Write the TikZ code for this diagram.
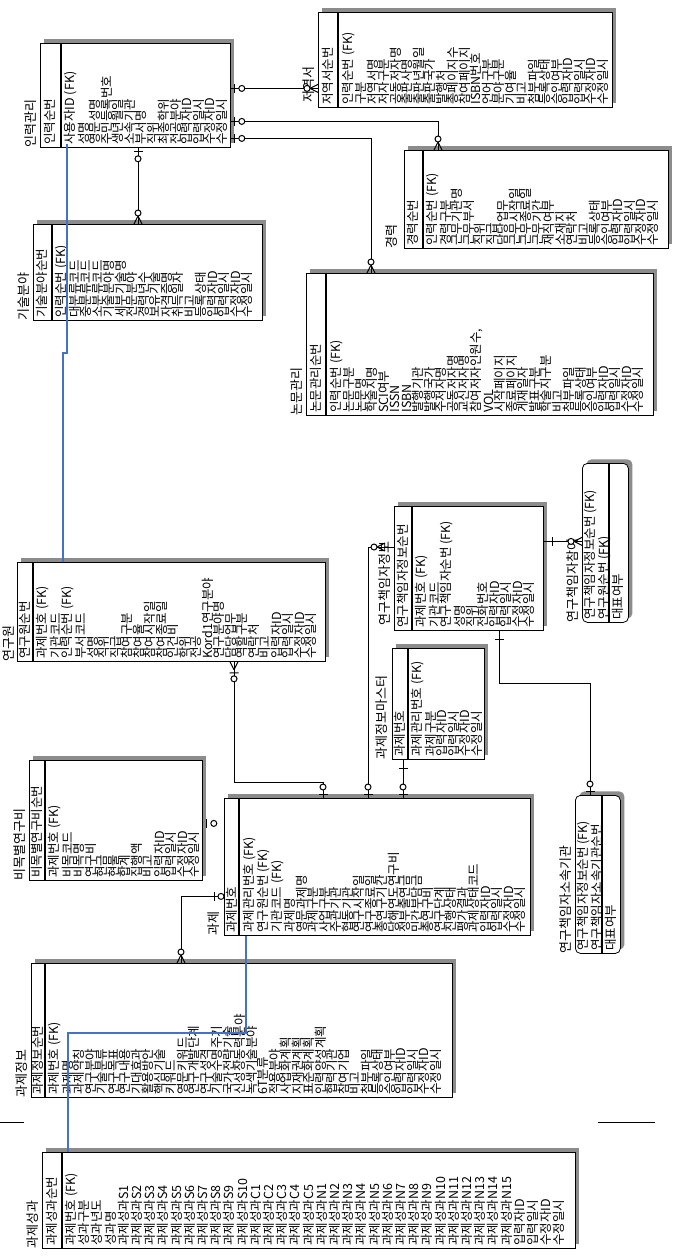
\documentclass[tikz,border=0pt]{standalone}
\usepackage{fontspec}
\newfontfamily\kr{Noto Sans CJK KR}
\usetikzlibrary{shadows}
\definecolor{memoblue}{RGB}{68,114,196}

\begin{document}
\begin{tikzpicture}[x=1pt,y=-1pt,
  entity/.style={draw,line width=0.8pt,fill=white,inner sep=0pt,anchor=north west,
    drop shadow={shadow xshift=4pt,shadow yshift=4pt,opacity=1,fill=black!45}},
  dentity/.style={entity,rounded corners=5pt},
  divline/.style={line width=1.4pt},
  etitle/.style={rotate=90,anchor=south west,inner sep=0pt,font=\kr\fontsize{13}{13}\selectfont},
  attr/.style={rotate=90,anchor=north west,align=left,inner sep=0pt,font=\kr\fontsize{12.5}{11.5}\selectfont},
  rel/.style={line width=1pt},
  memo/.style={line width=1.6pt,draw=memoblue},
  many/.pic={\draw (-8,0) -- (0,4) (-8,0) -- (0,-4); \draw[fill=white] (-11,0) circle (3pt);},
  zeroone/.pic={\draw (-4,-4.5) -- (-4,4.5); \draw[fill=white] (-11,0) circle (3pt);},
  one/.pic={\draw (-9,-4.5) -- (-9,4.5);},
  crowbar/.pic={\draw (-8,0) -- (0,4) (-8,0) -- (0,-4) (-11,-4.5) -- (-11,4.5); \draw[fill=white] (-17,0) circle (3pt);}]

  \useasboundingbox (0,0) rectangle (676,1256);

  \node[entity,minimum width=190,minimum height=104] (inryeok) at (40,43) {};
  \draw[divline] ([xshift=21pt]inryeok.north west) -- ([xshift=21pt]inryeok.south west);
  \node[etitle] (inryeok-t) at ([xshift=-3pt]inryeok.south west) {인력관리};
  \node[attr] (inryeok-k) at ([xshift=4pt,yshift=3pt]inryeok.south west) {인력순번};
  \node[attr] (inryeok-a) at ([xshift=24pt,yshift=3pt]inryeok.south west)
    {사용자ID (FK)\\성명\\영문성명\\주민등록번호\\생년월일\\소속기관\\부서명\\직위\\최종학위\\전공분야\\입력자ID\\입력일시\\수정자ID\\수정일시};

  \node[entity,minimum width=294,minimum height=95] (jeoyeok) at (318,12) {};
  \draw[divline] ([xshift=20pt]jeoyeok.north west) -- ([xshift=20pt]jeoyeok.south west);
  \node[etitle] (jeoyeok-t) at ([xshift=-3pt,yshift=5pt]jeoyeok.south west) {저역서};
  \node[attr] (jeoyeok-k) at ([xshift=4pt,yshift=3pt]jeoyeok.south west) {저역서순번};
  \node[attr] (jeoyeok-a) at ([xshift=24pt,yshift=3pt]jeoyeok.south west)
    {인력순번 (FK)\\구분\\저역서명\\저자구분\\공동저자명\\출판사명\\출판년월일\\출판국가\\발행처\\총페이지수\\참여페이지\\ISBN번호\\언어구분\\분야구분\\기여율\\비고\\첨부파일\\등록상태\\승인여부\\입력자ID\\입력일시\\수정자ID\\수정일시};

  \node[entity,minimum width=264,minimum height=98] (kyeong) at (404,150) {};
  \draw[divline] ([xshift=19pt]kyeong.north west) -- ([xshift=19pt]kyeong.south west);
  \node[etitle] (kyeong-t) at ([xshift=-6pt]kyeong.south west) {경력};
  \node[attr] (kyeong-k) at ([xshift=3pt,yshift=3pt]kyeong.south west) {경력순번};
  \node[attr] (kyeong-a) at ([xshift=22pt,yshift=3pt]kyeong.south west)
    {인력순번 (FK)\\경력구분\\근무기관명\\근무부서\\직위\\직급\\담당업무\\근무시작일\\근무종료일\\근무기간\\재직여부\\소재지\\연락처\\비고\\등록상태\\승인여부\\입력자ID\\입력일시\\수정자ID\\수정일시};

  \node[entity,minimum width=347,minimum height=142] (nonmun) at (306,273) {};
  \draw[divline] ([xshift=20pt]nonmun.north west) -- ([xshift=20pt]nonmun.south west);
  \node[etitle] (nonmun-t) at ([xshift=-3pt]nonmun.south west) {논문관리};
  \node[attr] (nonmun-k) at ([xshift=4pt,yshift=3pt]nonmun.south west) {논문관리순번};
  \node[attr] (nonmun-a) at ([xshift=24pt,yshift=3pt]nonmun.south west)
    {인력순번 (FK)\\논문구분\\논문명\\학술지명\\SCI여부\\ISSN\\ISBN\\발행기관\\발행국가\\주저자명\\공동저자명\\교신저자명\\참여저자인원수,\\VOL\\시작페이지\\종료페이지\\게재일자\\발표구분\\학술지구분\\비고\\첨부파일\\등록상태\\승인여부\\입력자ID\\입력일시\\수정자ID\\수정일시};

  \node[entity,minimum width=229,minimum height=96] (gisul) at (33,224) {};
  \draw[divline] ([xshift=19pt]gisul.north west) -- ([xshift=19pt]gisul.south west);
  \node[etitle] (gisul-t) at ([xshift=-3pt]gisul.south west) {기술분야};
  \node[attr] (gisul-k) at ([xshift=3pt,yshift=3pt]gisul.south west) {기술분야순번};
  \node[attr] (gisul-a) at ([xshift=22pt,yshift=3pt]gisul.south west)
    {인력순번 (FK)\\대분류코드\\중분류코드\\소분류코드\\기술분야명\\세부기술명\\전문분야\\경력년수\\보유기술\\자격증명\\취득일자\\비고\\등록상태\\입력자ID\\입력일시\\수정자ID\\수정일시};

  \node[entity,minimum width=308,minimum height=99] (yeonguwon) at (17,562) {};
  \draw[divline] ([xshift=16pt]yeonguwon.north west) -- ([xshift=16pt]yeonguwon.south west);
  \node[etitle] (yeonguwon-t) at ([xshift=-2pt]yeonguwon.south west) {연구원};
  \node[attr] (yeonguwon-k) at ([xshift=2pt,yshift=3pt]yeonguwon.south west) {연구원순번};
  \node[attr] (yeonguwon-a) at ([xshift=19pt,yshift=3pt]yeonguwon.south west)
    {과제번호 (FK)\\기관코드\\인력순번 (FK)\\부서코드\\성명\\직위\\직급\\참여구분\\참여율\\참여시작일\\참여종료일\\인건비\\학위\\전공\\Kord1연구분야\\연구분야명\\담당업무\\역할구분\\연락처\\비고\\입력자ID\\입력일시\\수정자ID\\수정일시};

  \node[entity,minimum width=149,minimum height=124] (chaegim) at (394,506) {};
  \draw[divline] ([xshift=18pt]chaegim.north west) -- ([xshift=18pt]chaegim.south west);
  \node[etitle] (chaegim-t) at ([xshift=-3pt,yshift=5pt]chaegim.south west) {연구책임자정보};
  \node[attr] (chaegim-k) at ([xshift=3pt,yshift=3pt]chaegim.south west) {연구책임자정보순번};
  \node[attr] (chaegim-a) at ([xshift=21pt,yshift=3pt]chaegim.south west)
    {과제번호 (FK)\\기관코드\\연구책임자순번 (FK)\\성명\\직위\\전화번호\\입력자ID\\입력일시\\수정자ID\\수정일시};

  \node[dentity,minimum width=46,minimum height=159] (chamyeo) at (582,463) {};
  \draw[divline] ([xshift=27pt]chamyeo.north west) -- ([xshift=27pt]chamyeo.south west);
  \node[etitle] (chamyeo-t) at ([xshift=-3pt]chamyeo.south west) {연구책임자참여};
  \node[attr] (chamyeo-k) at ([xshift=2pt,yshift=3pt]chamyeo.south west) {연구책임자정보순번 (FK)\\연구원순번 (FK)};
  \node[attr] (chamyeo-a) at ([xshift=30pt,yshift=3pt]chamyeo.south west) {대표여부};

  \node[entity,minimum width=92,minimum height=111] (master) at (392,648) {};
  \draw[divline] ([xshift=16pt]master.north west) -- ([xshift=16pt]master.south west);
  \node[etitle] (master-t) at ([xshift=-4pt]master.south west) {과제정보마스터};
  \node[attr] (master-k) at ([xshift=2pt,yshift=3pt]master.south west) {과제번호};
  \node[attr] (master-a) at ([xshift=19pt,yshift=3pt]master.south west)
    {과제관리번호 (FK)\\과제구분\\입력자ID\\입력일시\\수정자ID\\수정일시};

  \node[entity,minimum width=173,minimum height=120] (bimok) at (29,760) {};
  \draw[divline] ([xshift=16pt]bimok.north west) -- ([xshift=16pt]bimok.south west);
  \node[etitle] (bimok-t) at ([xshift=-3pt]bimok.south west) {비목별연구비};
  \node[attr] (bimok-k) at ([xshift=2pt,yshift=3pt]bimok.south west) {비목별연구비순번};
  \node[attr] (bimok-a) at ([xshift=19pt,yshift=3pt]bimok.south west)
    {과제번호 (FK)\\비목코드\\비목명\\연구비\\현금\\현물\\합계\\집행액\\비고\\입력자ID\\입력일시\\수정자ID\\수정일시};

  \node[entity,minimum width=306,minimum height=137] (gwaje) at (224,798) {};
  \draw[divline] ([xshift=15pt]gwaje.north west) -- ([xshift=15pt]gwaje.south west);
  \node[etitle] (gwaje-t) at ([xshift=-4pt]gwaje.south west) {과제};
  \node[attr] (gwaje-k) at ([xshift=2pt,yshift=3pt]gwaje.south west) {과제번호};
  \node[attr] (gwaje-a) at ([xshift=19pt,yshift=3pt]gwaje.south west)
    {과제관리번호 (FK)\\연구원순번 (FK)\\기관코드 (FK)\\과제명\\영문과제명\\과제구분\\사업구분\\주관기관\\협동기관\\연구시작일\\연구종료일\\총연구기간\\당해연도연구비\\정부출연금\\민간부담금\\총연구비\\연구단계\\진행상태\\평가결과\\과제상태코드\\입력자ID\\입력일시\\수정자ID\\수정일시};

  \node[entity,minimum width=421,minimum height=134] (gwajeinfo) at (31,963) {};
  \draw[divline] ([xshift=14pt]gwajeinfo.north west) -- ([xshift=14pt]gwajeinfo.south west);
  \node[etitle] (gwajeinfo-t) at ([xshift=-3pt]gwajeinfo.south west) {과제정보};
  \node[attr] (gwajeinfo-k) at ([xshift=1pt,yshift=3pt]gwajeinfo.south west) {과제정보순번};
  \node[attr] (gwajeinfo-a) at ([xshift=17pt,yshift=3pt]gwajeinfo.south west)
    {과제번호 (FK)\\과제명\\과제약칭\\연구분야\\기술분류\\연구목표\\연구내용\\기대효과\\활용방안\\핵심기술\\키워드\\영문키워드\\연구개발단계\\연구성격\\기술수명주기\\국가전략기술\\신성장동력분야\\녹색기술분야\\6T분류\\적용분야\\사업화계획\\지재권계획\\표준화계획\\인력양성계획\\협력기관\\참여기업\\비고\\첨부파일\\등록상태\\승인여부\\입력자ID\\입력일시\\수정자ID\\수정일시};

  \node[entity,minimum width=533,minimum height=96] (seonggwa) at (42,1152) {};
  \draw[divline] ([xshift=20pt]seonggwa.north west) -- ([xshift=20pt]seonggwa.south west);
  \node[etitle] (seonggwa-t) at ([xshift=-3pt]seonggwa.south west) {과제성과};
  \node[attr] (seonggwa-k) at ([xshift=4pt,yshift=3pt]seonggwa.south west) {과제성과순번};
  \node[attr,font=\kr\fontsize{12.5}{13.2}\selectfont] (seonggwa-a) at ([xshift=23pt,yshift=3pt]seonggwa.south west)
    {과제번호 (FK)\\성과구분\\성과년도\\성과명\\과제성과S1\\과제성과S2\\과제성과S3\\과제성과S4\\과제성과S5\\과제성과S6\\과제성과S7\\과제성과S8\\과제성과S9\\과제성과S10\\과제성과C1\\과제성과C2\\과제성과C3\\과제성과C4\\과제성과C5\\과제성과N1\\과제성과N2\\과제성과N3\\과제성과N4\\과제성과N5\\과제성과N6\\과제성과N7\\과제성과N8\\과제성과N9\\과제성과N10\\과제성과N11\\과제성과N12\\과제성과N13\\과제성과N14\\과제성과N15\\입력자ID\\입력일시\\수정자ID\\수정일시};

  \node[dentity,minimum width=45,minimum height=158] (sosok) at (575,795) {};
  \draw[divline] ([xshift=27pt]sosok.north west) -- ([xshift=27pt]sosok.south west);
  \node[etitle] (sosok-t) at ([xshift=-3pt]sosok.south west) {연구책임자소속기관};
  \node[attr] (sosok-k) at ([xshift=2pt,yshift=3pt]sosok.south west) {연구책임자정보순번 (FK)\\연구책임자소속기관순번};
  \node[attr] (sosok-a) at ([xshift=30pt,yshift=3pt]sosok.south west) {대표여부};

  \coordinate (r1) at ([yshift=7pt]inryeok.east);
  \draw[rel] (r1) -- (r1 -| jeoyeok.west);
  \pic[rel,rotate=180] at (r1) {zeroone};
  \pic[rel] at (r1 -| jeoyeok.west) {many};

  \coordinate (r2) at ([yshift=-26pt]inryeok.east);
  \coordinate (r2b) at ([xshift=34pt]kyeong.north west);
  \draw[rel] (r2) -| (r2b);
  \pic[rel,rotate=180] at (r2) {zeroone};
  \pic[rel,rotate=-90] at (r2b) {many};

  \coordinate (r3) at ([yshift=-43pt]inryeok.east);
  \coordinate (r3b) at ([xshift=65pt]nonmun.north west);
  \draw[rel] (r3) -| (r3b);
  \pic[rel,rotate=180] at (r3) {zeroone};
  \pic[rel,rotate=-90] at (r3b) {many};

  \coordinate (r4) at ([xshift=98pt]inryeok.south west);
  \draw[rel] (r4) -- (r4 |- gisul.north);
  \pic[rel,rotate=90] at (r4) {zeroone};
  \pic[rel,rotate=-90] at (r4 |- gisul.north) {many};

  \coordinate (r5) at ([xshift=217pt]yeonguwon.south west);
  \coordinate (r5b) at ([xshift=99pt]gwaje.north west);
  \coordinate (r5m) at ([yshift=16pt]r5b);
  \draw[rel] (r5) |- (r5m) -- (r5b);
  \pic[rel,rotate=90] at (r5) {crowbar};
  \pic[rel,rotate=-90] at (r5b) {zeroone};

  \coordinate (r6) at ([yshift=-41pt]chaegim.north west);
  \coordinate (r6b) at ([xshift=144pt]gwaje.north west);
  \draw[rel] (r6b) |- (r6);
  \pic[rel] at ([xshift=-9pt]r6) {many};
  \pic[rel,rotate=-90] at (r6b) {zeroone};

  \coordinate (r7) at ([xshift=11pt]master.south west);
  \draw[rel] (r7) -- (r7 |- gwaje.north);
  \pic[rel,rotate=90] at (r7) {one};
  \pic[rel,rotate=-90] at (r7 |- gwaje.north) {zeroone};

  \coordinate (r8) at ([yshift=27pt]chaegim.east);
  \draw[rel] (r8) -- (r8 -| chamyeo.west);
  \pic[rel,rotate=180] at (r8) {one};
  \pic[rel] at (r8 -| chamyeo.west) {many};

  \coordinate (r9) at ([xshift=105pt]chaegim.south west);
  \coordinate (r9b) at ([xshift=15pt]sosok.north west);
  \coordinate (r9m) at ([yshift=112pt]r9b);
  \draw[rel] (r9) |- (r9m) -- (r9b);
  \pic[rel,rotate=90] at (r9) {one};
  \pic[rel,rotate=-90] at (r9b) {zeroone};

  \coordinate (r10) at ([yshift=-29.5pt]gwaje.west);
  \coordinate (r10b) at ([xshift=150pt]gwajeinfo.north west);
  \draw[rel] (r10) -| (r10b);
  \pic[rel,rotate=180] at ([xshift=-14pt]r10) {zeroone};
  \pic[rel,rotate=-90] at (r10b) {many};

  \pic[rel,rotate=180] at ([yshift=-3pt]bimok.east) {zeroone};

  \draw[rel] (0,1122) -- (24,1122);
  \draw[rel] (598,1122) -- (655,1122);

  \coordinate (b1s) at ([xshift=27pt,yshift=4pt]inryeok.south west);
  \coordinate (b1e) at ([xshift=46pt]yeonguwon.north west);
  \coordinate (b1j) at ([yshift=209pt]b1e);
  \draw[memo] (b1s) |- (b1j) -- (b1e);

  \coordinate (b2s) at ([xshift=22pt]gwaje.south west);
  \coordinate (b2e) at ([xshift=26pt]seonggwa.north west);
  \coordinate (b2j) at ([yshift=119pt]b2e);
  \draw[memo] (b2s) |- (b2j) -- (b2e);
\end{tikzpicture}
\end{document}
